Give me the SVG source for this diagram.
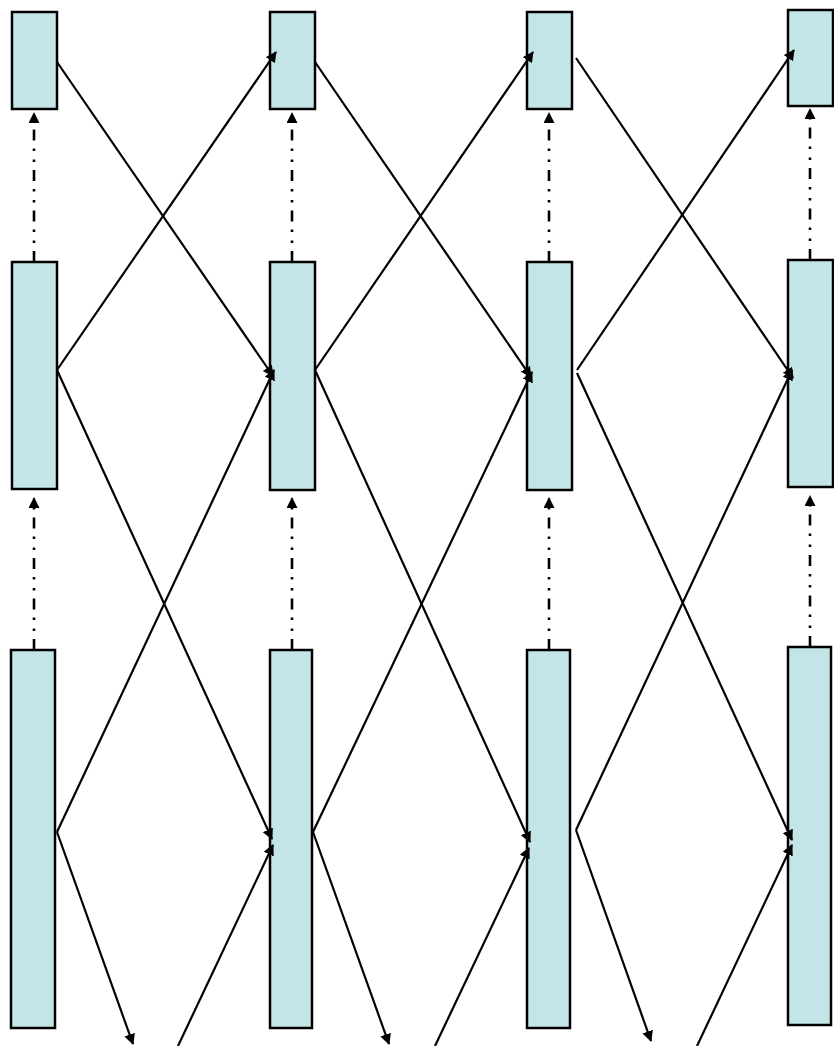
<svg xmlns="http://www.w3.org/2000/svg" width="834" height="1046" viewBox="0 0 834 1046">
<defs>
<style>
.box{fill:#c4e5e8;stroke:#000;stroke-width:2.5}
.ln{fill:none;stroke:#000;stroke-width:2.2;marker-end:url(#ah)}
.dd{fill:none;stroke:#000;stroke-width:2.6;stroke-dasharray:11 8 2.5 8.5 2.5 8;marker-end:url(#ah)}
</style>
<marker id="ah" markerUnits="userSpaceOnUse" markerWidth="14" markerHeight="14" refX="10" refY="5.5" orient="auto">
<path d="M0,0 L11,5.5 L0,11 z" fill="#000"/>
</marker>
</defs>
<rect width="834" height="1046" fill="#fff"/>
<g id="c1r1"><rect class="box" x="12" y="12" width="45" height="97"/></g>
<g id="c1r2"><rect class="box" x="12" y="262" width="45" height="227"/></g>
<g id="c1r3"><rect class="box" x="11" y="650" width="44" height="378"/></g>
<g id="c2r1"><rect class="box" x="270" y="12" width="45" height="97"/></g>
<g id="c2r2"><rect class="box" x="270" y="262" width="45" height="228"/></g>
<g id="c2r3"><rect class="box" x="270" y="650" width="42" height="378"/></g>
<g id="c3r1"><rect class="box" x="527" y="12" width="45" height="97"/></g>
<g id="c3r2"><rect class="box" x="527" y="262" width="45" height="228"/></g>
<g id="c3r3"><rect class="box" x="527" y="650" width="43" height="378"/></g>
<g id="c4r1"><rect class="box" x="788" y="10" width="45" height="96"/></g>
<g id="c4r2"><rect class="box" x="788" y="260" width="45" height="227"/></g>
<g id="c4r3"><rect class="box" x="788" y="647" width="43" height="378"/></g>
<g id="connectors">
<path class="dd" d="M34,262 L34,113"/>
<path class="dd" d="M292,262 L292,113"/>
<path class="dd" d="M549,262 L549,113"/>
<path class="dd" d="M810,260 L810,109"/>
<path class="dd" d="M34,650 L34,498"/>
<path class="dd" d="M292,650 L292,498"/>
<path class="dd" d="M549,650 L549,498"/>
<path class="dd" d="M810,647 L810,496"/>
<path class="ln" d="M57,62 L273,376"/>
<path class="ln" d="M57,370 L276,52"/>
<path class="ln" d="M315,62 L531,377"/>
<path class="ln" d="M315,370 L533,52"/>
<path class="ln" d="M576,58 L793,378"/>
<path class="ln" d="M577,370 L794,50"/>
<path class="ln" d="M57,370 L272,839"/>
<path class="ln" d="M57,832 L274,370"/>
<path class="ln" d="M315,370 L530,842"/>
<path class="ln" d="M313,832 L532,372"/>
<path class="ln" d="M577,373 L792,840"/>
<path class="ln" d="M576,830 L792,370"/>
<path class="ln" d="M57,832 L133,1044"/>
<path class="ln" d="M178,1046 L273,845"/>
<path class="ln" d="M313,832 L389,1044"/>
<path class="ln" d="M435,1046 L529,848"/>
<path class="ln" d="M576,830 L651,1041"/>
<path class="ln" d="M697,1046 L792,845"/>
</g>
</svg>
